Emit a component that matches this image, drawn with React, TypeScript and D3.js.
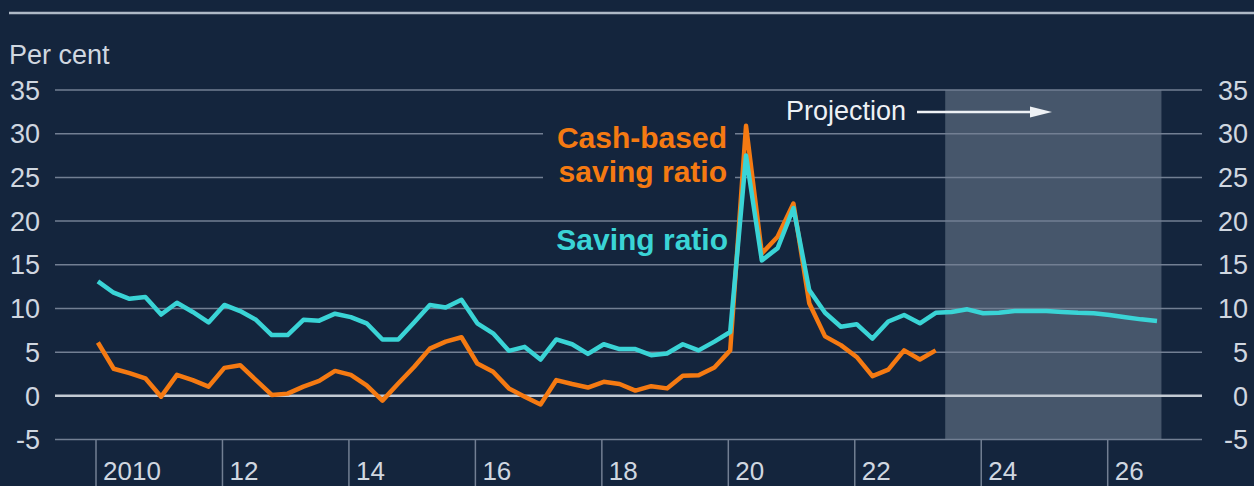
import React from "react";
import * as d3 from "d3";

// Household saving ratios, per cent, quarterly from 2010 Q1

const startYear = 2010;

const cashBasedRatio = [
  6.1, 3.1, 2.6, 2.0, -0.1, 2.4, 1.8, 1.05, 3.2, 3.5,
  1.8, 0.1, 0.25, 1.05, 1.7, 2.85, 2.4, 1.2, -0.55, 1.4,
  3.3, 5.4, 6.2, 6.7, 3.7, 2.75, 0.85, -0.1, -1.0, 1.8,
  1.35, 0.95, 1.6, 1.35, 0.6, 1.1, 0.85, 2.3, 2.35, 3.25,
  5.2, 30.9, 16.3, 18.2, 22.0, 10.6, 6.8, 5.8, 4.45, 2.25,
  3.0, 5.2, 4.15, 5.2,
];

const savingRatio = [
  13.1, 11.8, 11.1, 11.3, 9.3, 10.65, 9.6, 8.4, 10.4, 9.7,
  8.7, 6.95, 6.95, 8.7, 8.6, 9.4, 9.0, 8.3, 6.45, 6.45,
  8.4, 10.4, 10.1, 11.0, 8.3, 7.15, 5.15, 5.6, 4.15, 6.45,
  5.9, 4.8, 5.9, 5.35, 5.35, 4.65, 4.85, 5.9, 5.2, 6.2,
  7.3, 27.5, 15.5, 16.9, 21.5, 12.1, 9.5, 7.9, 8.2, 6.55,
  8.5, 9.25, 8.3, 9.5,
];

const savingRatioProjection = [
  9.6, 9.9, 9.45, 9.5, 9.7, 9.7, 9.7, 9.6, 9.5, 9.45, 9.25, 9.0, 8.75, 8.55,
];

const yTicks = [-5, 0, 5, 10, 15, 20, 25, 30, 35];
const xTicks = [2010, 2012, 2014, 2016, 2018, 2020, 2022, 2024, 2026];
const xTickLabels = ["2010", "12", "14", "16", "18", "20", "22", "24", "26"];
const projectionSpan = [2023.43, 2026.85];

const W = 1254;
const H = 486;
const BG = "#14253d";
const ORANGE = "#f57a12";
const CYAN = "#3ad4d6";
const GRID = "#727f93";
const TEXT = "#d0d7e0";
const FONT = "'Liberation Sans', Arial, sans-serif";

const toTime = (i: number) => startYear + i / 4 + 0.03;

export default function App() {
  const x = d3.scaleLinear().domain([2010, 2026]).range([96, 1107.7]);
  const y = d3.scaleLinear().domain([-5, 35]).range([439.5, 90]);

  const line = d3
    .line<[number, number]>()
    .x((d) => x(d[0]))
    .y((d) => y(d[1]));

  const cashPts: [number, number][] = cashBasedRatio.map((v, i) => [toTime(i), v]);
  const savePts: [number, number][] = savingRatio
    .concat(savingRatioProjection)
    .map((v, i) => [toTime(i), v]);

  const gridX0 = 55;
  const gridX1 = 1202;

  return (
    <svg
      width={W}
      height={H}
      style={{ position: "absolute", left: 0, top: 0, display: "block" }}
      fontFamily={FONT}
    >
      <rect x={0} y={0} width={W} height={H} fill={BG} />
      <line x1={9} x2={W} y1={13} y2={13} stroke="#aeb9c6" strokeWidth={2.5} />

      {/* projection shading */}
      <rect
        x={x(projectionSpan[0])}
        y={y(35)}
        width={x(projectionSpan[1]) - x(projectionSpan[0])}
        height={y(-5) - y(35)}
        fill="#46566b"
      />

      {/* horizontal gridlines */}
      {yTicks.map((t) => (
        <line
          key={t}
          x1={gridX0}
          x2={gridX1}
          y1={y(t)}
          y2={y(t)}
          stroke={t === 0 ? "#c3cad3" : GRID}
          strokeWidth={t === 0 ? 2.5 : 1.5}
        />
      ))}

      {/* left and right tick labels */}
      {yTicks.map((t) => (
        <g key={"yl" + t} fontSize={27} fill={TEXT}>
          <text x={40} y={y(t)} dy="0.36em" textAnchor="end">
            {t}
          </text>
          <text x={1248} y={y(t)} dy="0.36em" textAnchor="end">
            {t}
          </text>
        </g>
      ))}

      <text x={9} y={64} fontSize={27} fill={TEXT}>
        Per cent
      </text>

      {/* x ticks */}
      {xTicks.map((t, i) => (
        <g key={"xt" + t}>
          <line x1={x(t)} x2={x(t)} y1={y(-5)} y2={H} stroke={GRID} strokeWidth={1.5} />
          <text x={x(t) + 7} y={480} fontSize={26} fill={TEXT}>
            {xTickLabels[i]}
          </text>
        </g>
      ))}

      {/* projection label */}
      <text x={786} y={120} fontSize={27} fill="#eef1f5">
        Projection
      </text>
      <line x1={917} x2={1034} y1={112} y2={112} stroke="#eef1f5" strokeWidth={2.5} />
      <path d="M1030,106.5 L1052,112 L1030,117.5 Z" fill="#eef1f5" />

      {/* series labels */}
      <rect x={543} y={120} width={192} height={74} fill={BG} />
      <g fontSize={30} fontWeight="bold" textAnchor="end">
        <text x={727} y={148} fill={ORANGE}>
          Cash-based
        </text>
        <text x={727} y={182} fill={ORANGE}>
          saving ratio
        </text>
        <text x={728} y={250} fill={CYAN}>
          Saving ratio
        </text>
      </g>

      {/* series lines */}
      <path
        d={line(cashPts) ?? ""}
        fill="none"
        stroke={ORANGE}
        strokeWidth={4.5}
        strokeLinejoin="round"
      />
      <path
        d={line(savePts) ?? ""}
        fill="none"
        stroke={CYAN}
        strokeWidth={4.5}
        strokeLinejoin="round"
      />
    </svg>
  );
}
